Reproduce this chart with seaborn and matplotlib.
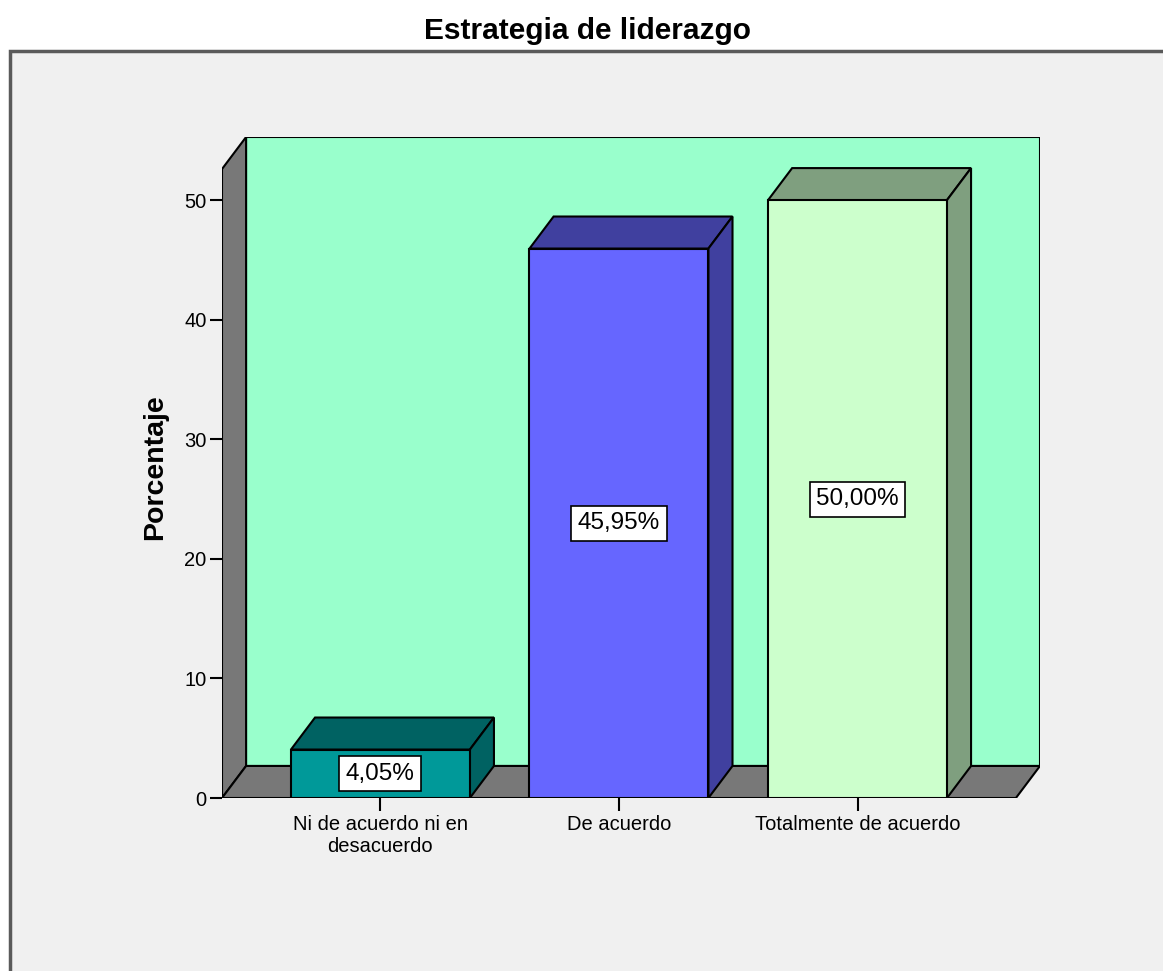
import matplotlib
matplotlib.use("Agg")
import matplotlib.pyplot as plt
import seaborn as sns
import pandas as pd
from matplotlib.patches import Polygon, Rectangle

# Data
categories = ["Ni de acuerdo ni en\ndesacuerdo", "De acuerdo", "Totalmente de acuerdo"]
percentages = [4.05, 45.95, 50.00]
y_ticks = [0, 10, 20, 30, 40, 50]

# Styling
front_colors = ["#009999", "#6666FF", "#CCFFCC"]
shade_colors = ["#006262", "#40409F", "#7F9F7F"]
wall_color = "#99FFCC"
side_color = "#787878"
panel_color = "#F0F0F0"

# Pseudo-3D geometry (data units)
DX, DY = 0.101, 2.68          # depth offset of the back plane
X0, X1 = -0.664, 2.664        # front floor extent
YTOP = 52.6                   # top of the front-left edge

sns.set_theme(style="white")
plt.rcParams["font.family"] = ["Liberation Sans", "DejaVu Sans"]
plt.rcParams["text.color"] = "black"
plt.rcParams["xtick.color"] = "black"
plt.rcParams["ytick.color"] = "black"
plt.rcParams["axes.labelcolor"] = "black"

fig = plt.figure(figsize=(11.63, 9.71), dpi=100, facecolor="white")

# Outer chart panel
fig.patches.append(Rectangle((10 / 1163, -0.05), 1.2, 1.05 - 51 / 971,
                             transform=fig.transFigure, facecolor=panel_color,
                             edgecolor="#5a5a5a", linewidth=2.5, zorder=-1))
fig.text(0.505, 1 - 31 / 971, "Estrategia de liderazgo", ha="center", va="center",
         fontsize=21.5, fontweight="bold", color="black")

ax = fig.add_axes([222 / 1163, 1 - 798 / 971, (1040 - 222) / 1163, (798 - 137) / 971])
ax.set_facecolor("none")

df = pd.DataFrame({"categoria": categories, "porcentaje": percentages})
sns.barplot(data=df, x="categoria", y="porcentaje", hue="categoria",
            palette=front_colors, saturation=1, width=0.75, edgecolor="black",
            linewidth=1.5, legend=False, ax=ax, zorder=3)

ax.set_xlim(X0, X1 + DX)
ax.set_ylim(0, YTOP + DY)

# Back wall, left wall and floor
ax.add_patch(Rectangle((X0 + DX, DY), X1 - X0, YTOP, facecolor=wall_color,
                       edgecolor="black", linewidth=1.5, zorder=0.5))
ax.add_patch(Polygon([(X0, 0), (X0 + DX, DY), (X0 + DX, YTOP + DY), (X0, YTOP)],
                     closed=True, facecolor=side_color, edgecolor="black",
                     linewidth=1.5, zorder=0.6))
ax.add_patch(Polygon([(X0, 0), (X1, 0), (X1 + DX, DY), (X0 + DX, DY)],
                     closed=True, facecolor=side_color, edgecolor="black",
                     linewidth=1.5, zorder=0.7))

# Top and side faces of each bar, built from the drawn bars
for bar, shade, value in zip(ax.patches[:len(percentages)], shade_colors, percentages):
    x, w, h = bar.get_x(), bar.get_width(), bar.get_height()
    ax.add_patch(Polygon([(x, h), (x + w, h), (x + w + DX, h + DY), (x + DX, h + DY)],
                         closed=True, facecolor=shade, edgecolor="black",
                         linewidth=1.5, zorder=2.5))
    ax.add_patch(Polygon([(x + w, 0), (x + w + DX, DY), (x + w + DX, h + DY), (x + w, h)],
                         closed=True, facecolor=shade, edgecolor="black",
                         linewidth=1.5, zorder=2.5))
    label = f"{value:.2f}".replace(".", ",") + "%"
    ax.text(x + w / 2, h / 2, label, ha="center", va="center", fontsize=17.5,
            color="black", zorder=5,
            bbox=dict(boxstyle="square,pad=0.27", facecolor="white",
                      edgecolor="black", linewidth=1.2))

for s in ax.spines.values():
    s.set_visible(False)

ax.set_yticks(y_ticks)
ax.set_yticklabels([str(t) for t in y_ticks])
ax.set_xticks(range(len(categories)))
ax.set_xticklabels(categories, linespacing=1.2)
ax.tick_params(axis="y", direction="out", length=9, width=1.5, colors="black",
               labelsize=14.5, pad=2, left=True)
ax.tick_params(axis="x", direction="out", length=9.5, width=1.5, colors="black",
               labelsize=14.5, pad=3, bottom=True)
ax.set_xlabel("")
ax.set_ylabel("Porcentaje", fontsize=20.5, fontweight="bold", labelpad=12,
              color="black")

fig.savefig("out.png", dpi=100, facecolor=fig.get_facecolor())
